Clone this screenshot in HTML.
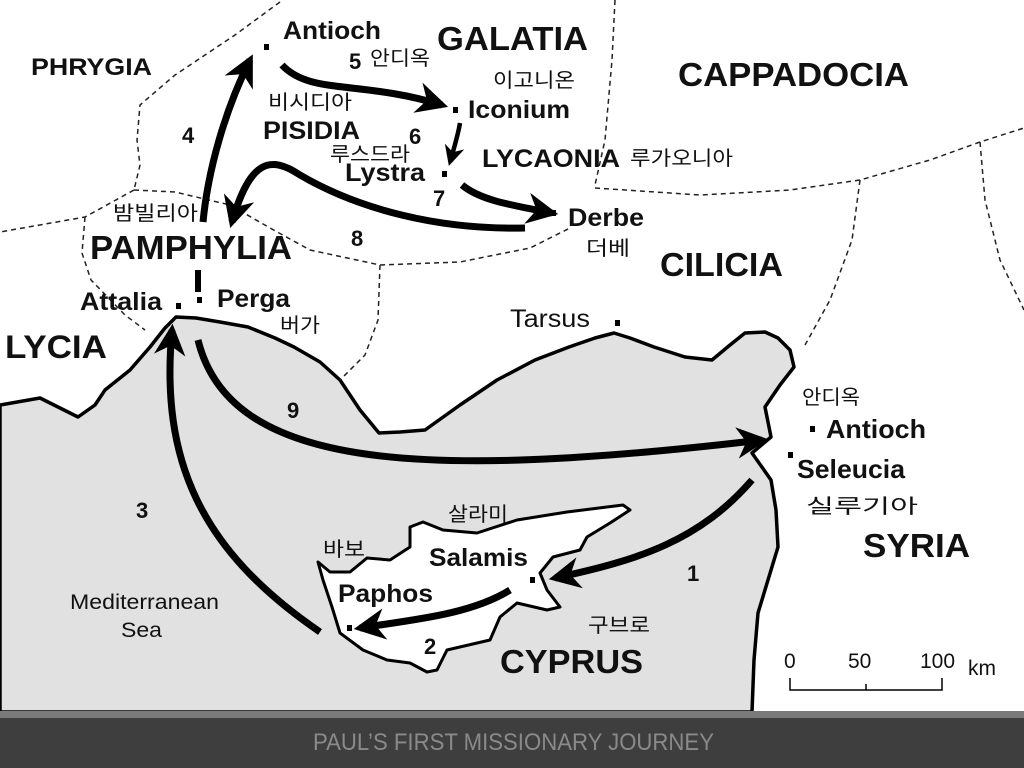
<!DOCTYPE html>
<html><head><meta charset="utf-8"><style>
html,body{margin:0;padding:0;background:#fff;}
svg{display:block}
.b{font-family:"Liberation Sans","Noto Sans CJK KR",sans-serif;font-weight:bold;fill:#111}
.r{font-family:"Liberation Sans","Noto Sans CJK KR",sans-serif;fill:#111}
.k{font-family:"Noto Sans CJK KR","NanumGothic",sans-serif;fill:#111}
</style></head><body>
<svg width="1024" height="768" viewBox="0 0 1024 768" xmlns="http://www.w3.org/2000/svg">
<defs>
<marker id="ah" viewBox="0 0 10 10" refX="8" refY="5" markerWidth="5" markerHeight="4.5" orient="auto" markerUnits="strokeWidth">
<path d="M0,0 L10,5 L0,10 L3,5 z" fill="#000"/></marker>
</defs>
<rect width="1024" height="768" fill="#fff"/>
<path d="M0,405 L40,398 L78,417 L95,405 L105,390 L130,370 L150,347 L165,328 L176,317 L196,318 L220,322 L248,327 L275,338 L294,347 L320,362 L340,380 L360,410 L379,433 L400,432 L425,430 L460,405 L497,380 L535,360 L569,347 L595,338 L614,333 L630,338 L654,347 L685,357 L712,360 L730,345 L745,333 L765,332 L778,338 L790,350 L794,367 L780,385 L765,407 L771,437 L752,453 L771,480 L776,510 L778,547 L768,580 L758,613 L754,660 L752,712 L0,712 Z" fill="#e1e1e1" stroke="#000" stroke-width="3.5" stroke-linejoin="round"/>
<path d="M318,562 L330,572 L350,572 L367,558 L390,560 L410,547 L410,527 L423,522 L443,530 L477,533 L517,520 L567,512 L623,505 L630,510 L610,523 L587,537 L580,550 L553,557 L540,573 L547,590 L560,607 L547,610 L517,603 L500,617 L490,640 L447,650 L437,670 L427,672 L410,663 L387,660 L363,650 L340,633 L332,607 L323,580 Z" fill="#fff" stroke="#000" stroke-width="3" stroke-linejoin="round"/>
<g fill="none" stroke="#222" stroke-width="1.5" stroke-dasharray="5,4">
<path d="M280,2 L235,35 L175,75 L140,105 L137,140 L140,165 L134,190"/>
<path d="M134,190 L175,192 L230,205 L270,228 L310,250 L380,265 L460,262 L530,248 L570,228"/>
<path d="M134,190 L85,217 L0,232"/>
<path d="M85,217 L82,253 L91,280 L125,315 L145,330"/>
<path d="M615,0 L612,60 L605,140 L595,185"/>
<path d="M595,188 L700,195 L790,190 L860,180 L930,160 L980,142 L1024,128"/>
<path d="M980,142 L985,200 L1000,260 L1024,310"/>
<path d="M380,265 L378,320 L365,355 L340,380"/>
<path d="M860,180 L852,240 L830,300 L805,345"/>
</g>
<g fill="none" stroke="#000" stroke-width="7" stroke-linecap="butt">
<path d="M752,480 C700,540 640,560 555,578" marker-end="url(#ah)"/>
<path d="M510,590 C470,615 410,620 360,628" marker-end="url(#ah)"/>
<path d="M320,632 C200,550 160,460 172,330" marker-end="url(#ah)"/>
<path d="M198,340 C230,470 420,480 762,440" marker-end="url(#ah)"/>
<path d="M203,222 C208,170 225,110 250,60" marker-end="url(#ah)"/>
<path d="M282,65 C310,95 360,80 442,105" marker-end="url(#ah)"/>
<path d="M460,123 C458,135 455,145 450,162" marker-end="url(#ah)" stroke-width="4.5"/>
<path d="M462,185 C480,200 510,205 552,213" marker-end="url(#ah)"/>
<path d="M525,228 C440,230 360,210 300,175 C270,155 250,160 232,222" marker-end="url(#ah)"/>
</g>
<rect x="195" y="270" width="6" height="22" fill="#000"/>
<g fill="#000">
<rect x="264" y="44" width="5" height="6"/>
<rect x="453" y="107" width="5" height="6"/>
<rect x="442" y="171" width="5" height="6"/>
<rect x="551" y="210" width="5" height="6"/>
<rect x="176" y="303" width="5" height="6"/>
<rect x="197" y="297" width="5" height="6"/>
<rect x="615" y="320" width="5" height="6"/>
<rect x="810" y="426" width="5" height="6"/>
<rect x="788" y="452" width="5" height="6"/>
<rect x="530" y="577" width="5" height="6"/>
<rect x="347" y="625" width="5" height="6"/>
</g>
<g lengthAdjust="spacingAndGlyphs">
<text class="b" x="31" y="75" font-size="24" textLength="121" lengthAdjust="spacingAndGlyphs">PHRYGIA</text>
<text class="b" x="283" y="39" font-size="25" textLength="98" lengthAdjust="spacingAndGlyphs">Antioch</text>
<text class="b" x="437" y="50" font-size="33" textLength="151" lengthAdjust="spacingAndGlyphs">GALATIA</text>
<text class="b" x="349" y="69" font-size="22">5</text>
<text class="k" x="370" y="65" font-size="20" textLength="60" lengthAdjust="spacingAndGlyphs">안디옥</text>
<text class="k" x="493" y="87" font-size="20" textLength="82" lengthAdjust="spacingAndGlyphs">이고니온</text>
<text class="b" x="678" y="86" font-size="33" textLength="231" lengthAdjust="spacingAndGlyphs">CAPPADOCIA</text>
<text class="k" x="268" y="109" font-size="20" textLength="84" lengthAdjust="spacingAndGlyphs">비시디아</text>
<text class="b" x="468" y="118" font-size="25" textLength="102" lengthAdjust="spacingAndGlyphs">Iconium</text>
<text class="b" x="182" y="143" font-size="22">4</text>
<text class="b" x="263" y="139" font-size="25" textLength="97" lengthAdjust="spacingAndGlyphs">PISIDIA</text>
<text class="b" x="409" y="144" font-size="22">6</text>
<text class="k" x="330" y="161" font-size="20" textLength="80" lengthAdjust="spacingAndGlyphs">루스드라</text>
<text class="b" x="345" y="181" font-size="25" textLength="80" lengthAdjust="spacingAndGlyphs">Lystra</text>
<text class="b" x="482" y="167" font-size="25" textLength="138" lengthAdjust="spacingAndGlyphs">LYCAONIA</text>
<text class="k" x="630" y="165" font-size="20" textLength="103" lengthAdjust="spacingAndGlyphs">루가오니아</text>
<text class="b" x="433" y="206" font-size="22">7</text>
<text class="k" x="113" y="220" font-size="20" textLength="85" lengthAdjust="spacingAndGlyphs">밤빌리아</text>
<text class="b" x="568" y="226" font-size="25" textLength="76" lengthAdjust="spacingAndGlyphs">Derbe</text>
<text class="b" x="351" y="246" font-size="22">8</text>
<text class="k" x="586" y="255" font-size="20" textLength="44" lengthAdjust="spacingAndGlyphs">더베</text>
<text class="b" x="90" y="259" font-size="33" textLength="202" lengthAdjust="spacingAndGlyphs">PAMPHYLIA</text>
<text class="b" x="660" y="276" font-size="33" textLength="123" lengthAdjust="spacingAndGlyphs">CILICIA</text>
<text class="b" x="80" y="310" font-size="25" textLength="82" lengthAdjust="spacingAndGlyphs">Attalia</text>
<text class="b" x="217" y="307" font-size="25" textLength="73" lengthAdjust="spacingAndGlyphs">Perga</text>
<text class="r" x="510" y="327" font-size="25" textLength="80" lengthAdjust="spacingAndGlyphs">Tarsus</text>
<text class="k" x="280" y="332" font-size="20" textLength="40" lengthAdjust="spacingAndGlyphs">버가</text>
<text class="b" x="5" y="358" font-size="32" textLength="102" lengthAdjust="spacingAndGlyphs">LYCIA</text>
<text class="k" x="802" y="404" font-size="20" textLength="58" lengthAdjust="spacingAndGlyphs">안디옥</text>
<text class="b" x="287" y="418" font-size="22">9</text>
<text class="b" x="826" y="438" font-size="26" textLength="100" lengthAdjust="spacingAndGlyphs">Antioch</text>
<text class="b" x="797" y="478" font-size="26" textLength="108" lengthAdjust="spacingAndGlyphs">Seleucia</text>
<text class="k" x="806" y="513" font-size="20" textLength="112" lengthAdjust="spacingAndGlyphs">실루기아</text>
<text class="b" x="136" y="518" font-size="22">3</text>
<text class="k" x="448" y="521" font-size="20" textLength="60" lengthAdjust="spacingAndGlyphs">살라미</text>
<text class="k" x="323" y="556" font-size="20" textLength="42" lengthAdjust="spacingAndGlyphs">바보</text>
<text class="b" x="863" y="557" font-size="33" textLength="107" lengthAdjust="spacingAndGlyphs">SYRIA</text>
<text class="b" x="429" y="566" font-size="25" textLength="99" lengthAdjust="spacingAndGlyphs">Salamis</text>
<text class="b" x="687" y="581" font-size="22">1</text>
<text class="b" x="338" y="602" font-size="25" textLength="95" lengthAdjust="spacingAndGlyphs">Paphos</text>
<text class="r" x="70" y="609" font-size="21" textLength="149" lengthAdjust="spacingAndGlyphs">Mediterranean</text>
<text class="r" x="121" y="637" font-size="21" textLength="41" lengthAdjust="spacingAndGlyphs">Sea</text>
<text class="k" x="588" y="632" font-size="20" textLength="62" lengthAdjust="spacingAndGlyphs">구브로</text>
<text class="b" x="424" y="654" font-size="22">2</text>
<text class="b" x="500" y="673" font-size="33" textLength="143" lengthAdjust="spacingAndGlyphs">CYPRUS</text>
<text class="r" x="784" y="668" font-size="21">0</text>
<text class="r" x="848" y="668" font-size="21">50</text>
<text class="r" x="920" y="668" font-size="21">100</text>
<text class="r" x="968" y="675" font-size="21">km</text>
</g>
<path d="M790,678 L790,690 L942,690 L942,678 M866,684 L866,690" fill="none" stroke="#000" stroke-width="1.5"/>
<rect x="0" y="711" width="1024" height="7" fill="#7a7a7a"/>
<rect x="0" y="718" width="1024" height="50" fill="#3e3e3e"/>
<text x="313" y="750" font-family="Liberation Sans Narrow, Liberation Sans, sans-serif" font-size="24" fill="#8a8a8a" textLength="401" lengthAdjust="spacingAndGlyphs">PAUL’S FIRST MISSIONARY JOURNEY</text>
</svg>
</body></html>
